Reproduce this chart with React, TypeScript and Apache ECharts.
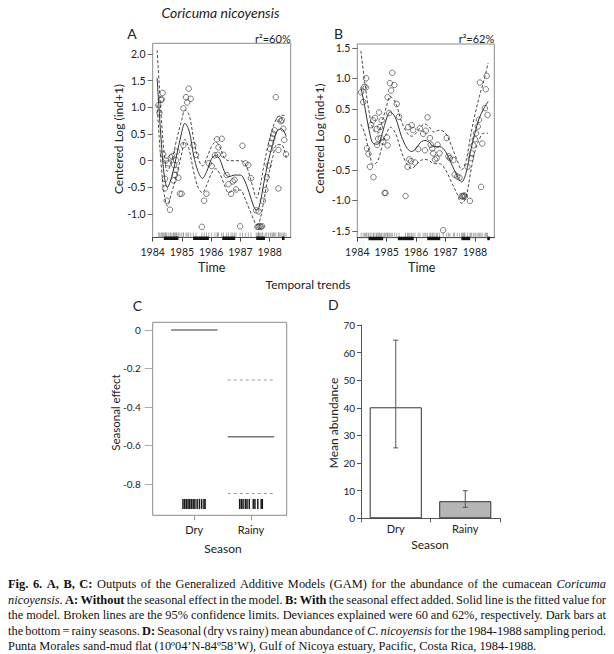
import React, { useEffect, useRef } from 'react';
import * as echarts from 'echarts';

// ---------- DATA ----------
const yearTicks = [1984, 1985, 1986, 1987, 1988];
const yTicksA = [-1, -0.5, 0, 0.5, 1, 1.5, 2];
const yTicksB = [-1.5, -1, -0.5, 0, 0.5, 1, 1.5];
const yTicksC = [-0.8, -0.6, -0.4, -0.2, 0];

// Panel A observations (time, centered log)
const pointsA: [number, number][] = [
  [1984.19, 1.04], [1984.23, 0.9], [1984.28, 1.14], [1984.31, 1.15], [1984.34, 1.27],
  [1984.36, 0.12], [1984.45, 0.0], [1984.42, -0.34], [1984.42, -0.52], [1984.48, -0.75], [1984.59, -0.92],
  [1984.53, -0.05], [1984.62, 0.06], [1984.66, 0.08], [1984.73, -0.08], [1984.71, -0.37], [1984.76, -0.27],
  [1984.8, 0.01], [1984.83, 0.17], [1984.8, -0.17], [1984.88, -0.32], [1984.93, -0.62], [1984.99, -0.62],
  [1985.05, 0.29], [1985.05, 0.98], [1985.14, 1.19], [1985.18, 1.09], [1985.23, 1.35], [1985.3, 1.16],
  [1985.39, 0.29], [1985.48, 0.11], [1985.68, -1.24], [1985.76, -0.75], [1985.84, -0.62], [1985.92, -0.05],
  [1986.02, -0.1], [1986.13, 0.1], [1986.2, 0.4], [1986.25, 0.25], [1986.22, 0.11], [1986.36, 0.41],
  [1986.42, 0.11], [1986.53, -0.27], [1986.59, -0.44], [1986.68, -0.62], [1986.74, -0.39], [1986.8, -0.36],
  [1986.85, -0.54], [1986.99, -1.23], [1987.07, 0.28], [1987.17, -0.05], [1987.27, -0.08], [1987.36, -0.33],
  [1987.54, -0.93], [1987.62, -0.95], [1987.58, -1.24], [1987.62, -1.24], [1987.66, -1.23], [1987.7, -1.24],
  [1987.74, -1.23], [1987.77, -0.75], [1987.85, -0.55], [1987.9, -0.31], [1987.96, -0.09], [1988.02, 0.22],
  [1988.05, 0.33], [1988.1, 0.42], [1988.13, 0.5], [1988.17, 0.57], [1988.21, 1.19], [1988.3, -0.52],
  [1988.3, 0.2], [1988.33, 0.78], [1988.38, 0.74], [1988.42, 0.76], [1988.47, 0.6], [1988.5, 0.39], [1988.56, 0.12],
];
const timeA = [1984.15, 1984.22, 1984.3, 1984.4, 1984.5, 1984.65, 1984.8, 1985.0, 1985.1, 1985.25, 1985.4, 1985.55,
  1985.7, 1985.85, 1986.0, 1986.15, 1986.3, 1986.45, 1986.6, 1986.8, 1987.0, 1987.15, 1987.3, 1987.45, 1987.55,
  1987.65, 1987.8, 1987.95, 1988.1, 1988.25, 1988.4, 1988.57];
const fitA = [1.55, 0.95, 0.3, -0.3, -0.5, -0.3, 0.05, 0.55, 0.7, 0.55, 0.1, -0.2, -0.33, -0.2, 0.02, 0.1, 0.02,
  -0.2, -0.3, -0.27, -0.27, -0.38, -0.6, -0.85, -0.93, -0.85, -0.42, -0.02, 0.3, 0.55, 0.6, 0.45];
const upperA = [2.07, 1.45, 0.75, 0.1, -0.2, 0.0, 0.35, 0.78, 0.95, 0.85, 0.4, 0.05, -0.1, 0.05, 0.25, 0.35, 0.25,
  0.05, 0.0, 0.0, 0.0, -0.05, -0.25, -0.55, -0.7, -0.55, -0.1, 0.3, 0.6, 0.8, 0.85, 0.85];
const lowerA = [1.05, 0.45, -0.15, -0.65, -0.85, -0.6, -0.3, 0.15, 0.4, 0.2, -0.2, -0.5, -0.6, -0.45, -0.25, -0.15,
  -0.25, -0.45, -0.6, -0.55, -0.55, -0.7, -0.9, -1.1, -1.2, -1.15, -0.75, -0.3, 0.05, 0.3, 0.3, 0.05];

// Panel B observations
const pointsB: [number, number][] = [
  [1984.13, 0.77], [1984.2, 0.61], [1984.24, 0.86], [1984.29, 0.85], [1984.3, 1.0],
  [1984.33, -0.15], [1984.38, -0.24], [1984.43, -0.45], [1984.47, 0.23], [1984.54, 0.31], [1984.55, -0.62],
  [1984.6, 0.35], [1984.66, 0.17], [1984.67, -0.09], [1984.71, 0.01], [1984.74, 0.44], [1984.77, 0.2],
  [1984.8, 0.02], [1984.83, 0.31], [1984.88, -0.04], [1984.93, -0.88], [1984.96, -0.88], [1985.01, 0.03],
  [1985.03, -0.1], [1985.03, 0.69], [1985.08, 0.43], [1985.11, 0.92], [1985.15, 0.8], [1985.19, 1.09],
  [1985.26, 0.89], [1985.34, 0.58], [1985.42, 0.37], [1985.64, -0.93], [1985.71, -0.45], [1985.73, 0.2],
  [1985.77, -0.33], [1985.83, -0.36], [1985.85, 0.23], [1985.9, 0.15], [1985.96, -0.38], [1986.07, -0.16],
  [1986.13, 0.18], [1986.24, 0.09], [1986.3, -0.18], [1986.33, 0.14], [1986.39, 0.36], [1986.47, 0.02],
  [1986.5, -0.09], [1986.55, -0.15], [1986.58, -0.23], [1986.64, -0.33], [1986.7, -0.31], [1986.73, -0.09],
  [1986.8, -0.23], [1986.92, -1.49], [1987.04, 0.02], [1987.1, -0.28], [1987.15, -0.31], [1987.27, -0.34],
  [1987.31, -0.58], [1987.4, -0.61], [1987.48, -0.63], [1987.55, -0.93], [1987.58, -0.94], [1987.61, -0.93],
  [1987.64, -0.92], [1987.66, -0.94], [1987.75, -0.45], [1987.83, -1.01], [1987.86, -0.31], [1987.89, -0.23],
  [1987.95, -0.1], [1988.0, 0.0], [1988.04, 0.1], [1988.1, 0.21], [1988.14, 0.32], [1988.17, 0.93],
  [1988.21, -0.78], [1988.25, -0.07], [1988.34, 0.51], [1988.37, 0.82], [1988.4, 1.04], [1988.43, 0.4],
];
const timeB = [1984.12, 1984.25, 1984.4, 1984.55, 1984.7, 1984.85, 1985.0, 1985.12, 1985.3, 1985.5, 1985.7,
  1985.85, 1986.0, 1986.15, 1986.3, 1986.45, 1986.6, 1986.8, 1987.0, 1987.2, 1987.4, 1987.55, 1987.7, 1987.85,
  1988.0, 1988.15, 1988.3, 1988.45];
const fitB = [0.85, 0.55, 0.15, -0.07, -0.08, 0.1, 0.35, 0.45, 0.35, 0.05, -0.15, -0.2, -0.15, -0.05, -0.02,
  -0.05, -0.12, -0.12, -0.2, -0.4, -0.6, -0.7, -0.55, -0.2, 0.1, 0.35, 0.5, 0.62];
const upperB = [1.45, 0.95, 0.45, 0.15, 0.1, 0.3, 0.55, 0.7, 0.6, 0.3, 0.1, 0.05, 0.1, 0.2, 0.25, 0.2, 0.12,
  0.15, 0.1, -0.1, -0.35, -0.5, -0.35, 0.05, 0.4, 0.7, 0.95, 1.25];
const lowerB = [0.25, 0.1, -0.2, -0.42, -0.35, -0.1, 0.1, 0.2, 0.1, -0.2, -0.42, -0.48, -0.42, -0.35, -0.33,
  -0.35, -0.4, -0.4, -0.5, -0.7, -0.9, -1.05, -0.95, -0.55, -0.2, 0.0, 0.1, 0.1];

// Rainy seasons (dark bars at the bottom)
const rainySeasons: [number, number][] = [
  [1984.38, 1984.88], [1985.38, 1985.92], [1986.38, 1986.82], [1987.54, 1987.84], [1988.42, 1988.51],
];

// Panel C: seasonal effect
const seasons = ['Dry', 'Rainy'];
const seasonEffect = [0, -0.555];
const seasonUpper = [null, -0.26];
const seasonLower = [null, -0.85];
const rugDry = [-0.2, -0.17, -0.14, -0.11, -0.08, -0.05, -0.02, 0.01, 0.05, 0.09, 0.13, 0.17, 0.19];
const rugRainy = [-0.2, -0.17, -0.14, -0.1, -0.07, -0.03, 0.04, 0.07, 0.12, 0.18, 0.2];

// Panel D: mean abundance
const meanAbund = [40.2, 6.2];
const abundLow = [25.5, 4.0];
const abundHigh = [64.5, 10.0];

// Caption
type Seg = [string, string];
const captionLines: Seg[][] = [
  [['Fig. 6. A, B, C:', 'b'], [' Outputs of the Generalized Additive Models (GAM) for the abundance of the cumacean ', ''], ['Coricuma', 'i']],
  [['nicoyensis', 'i'], ['. ', ''], ['A: Without', 'b'], [' the seasonal effect in the model. ', ''], ['B: With', 'b'], [' the seasonal effect added. Solid line is the fitted value for', '']],
  [['the model. Broken lines are the 95% confidence limits. Deviances explained were 60 and 62%, respectively. Dark bars at', '']],
  [['the bottom = rainy seasons. ', ''], ['D:', 'b'], [' Seasonal (dry vs rainy) mean abundance of ', ''], ['C. nicoyensis', 'i'], [' for the 1984-1988 sampling period.', '']],
  [['Punta Morales sand-mud flat (10º04’N-84º58’W), Gulf of Nicoya estuary, Pacific, Costa Rica, 1984-1988.', '']],
];

// ---------- STYLE ----------
const SANS = 'Lato, "Open Sans", sans-serif';
const SERIF = '"Liberation Serif", "Times New Roman", serif';
const INK = '#222';
const BOX = '#8a8a8a';
const fmt1 = (v: number) => (Math.abs(v) < 1e-9 ? '0' : v.toFixed(1));

function txt(x: number, y: number, text: string, opts: any = {}) {
  const align = opts.align || 'center';
  const va = opts.va || 'middle';
  return {
    type: 'text', x, y, rotation: opts.rotation || 0, z: 10,
    style: {
      text, fill: opts.fill || INK,
      fontSize: opts.size || 12, fontFamily: opts.family || SANS,
      fontStyle: opts.italic ? 'italic' : 'normal', fontWeight: opts.bold ? 'bold' : 'normal',
      align, verticalAlign: va, textAlign: align, textVerticalAlign: va,
    },
  };
}

function captionGraphics() {
  const out: any[] = [];
  const ctx = document.createElement('canvas').getContext('2d')!;
  const size = 12.4;
  const left = 8, right = 606;
  const ys = [584, 599.5, 615, 630.5, 646];
  const font = (s: string) => `${s === 'i' ? 'italic ' : ''}${s === 'b' ? 'bold ' : ''}${size}px ${SERIF}`;
  captionLines.forEach((line, li) => {
    const words: { t: string; s: string }[][] = [];
    let cur: { t: string; s: string }[] = [];
    for (const [t, s] of line) {
      t.split(' ').forEach((p, k) => {
        if (k > 0) { if (cur.length) words.push(cur); cur = []; }
        if (p) cur.push({ t: p, s });
      });
    }
    if (cur.length) words.push(cur);
    const widths = words.map((w) => w.reduce((a, r) => { ctx.font = font(r.s); return a + ctx.measureText(r.t).width; }, 0));
    const total = widths.reduce((a, b) => a + b, 0);
    ctx.font = font('');
    const space = ctx.measureText(' ').width;
    const justify = li < captionLines.length - 1;
    const gap = justify ? (right - left - total) / (words.length - 1) : space;
    let x = left;
    words.forEach((w, i) => {
      let rx = x;
      w.forEach((r) => {
        ctx.font = font(r.s);
        out.push(txt(rx, ys[li], r.t, { align: 'left', size, family: SERIF, italic: r.s === 'i', bold: r.s === 'b', fill: '#111' }));
        rx += ctx.measureText(r.t).width;
      });
      x += widths[i] + gap;
    });
  });
  return out;
}

function gamAxes(gi: number, xmax: number, ymin: number, ymax: number, yt: number[]) {
  const x = {
    gridIndex: gi, type: 'value', min: 1984, max: xmax,
    axisLine: { show: true, onZero: false, lineStyle: { color: '#444', width: 1 } },
    axisTick: { show: true, length: 4, customValues: yearTicks, lineStyle: { color: '#444' } },
    axisLabel: { customValues: yearTicks, formatter: (v: number) => String(Math.round(v)), margin: 9, fontSize: 10.5, color: INK, fontFamily: SANS },
    splitLine: { show: false },
  };
  const y = {
    gridIndex: gi, type: 'value', min: ymin, max: ymax,
    axisLine: { show: false, onZero: false },
    axisTick: { show: true, length: 5, customValues: yt, lineStyle: { color: '#666' } },
    axisLabel: { customValues: yt, formatter: fmt1, margin: 7, fontSize: 10.5, color: INK, fontFamily: SANS },
    splitLine: { show: false },
  };
  return { x, y };
}

function gamSeries(idx: number, pts: [number, number][], t: number[], fit: number[], up: number[], lo: number[], ymin: number) {
  const base = { xAxisIndex: idx, yAxisIndex: idx };
  const line = (vals: number[], dashed: boolean) => ({
    ...base, type: 'line', data: t.map((x, i) => [x, vals[i]]), showSymbol: false, smooth: 0.35,
    lineStyle: { color: '#333', width: dashed ? 0.9 : 1, type: dashed ? [3, 2] : 'solid' }, silent: true, z: 3,
  });
  return [
    line(up, true), line(lo, true), line(fit, false),
    {
      ...base, type: 'scatter', data: pts, symbol: 'circle', symbolSize: 5.5, z: 4,
      itemStyle: { color: 'rgba(255,255,255,0)', borderColor: '#333', borderWidth: 0.8 },
    },
    {
      ...base, type: 'custom', data: pts.map((p) => [p[0], ymin]), encode: { x: 0, y: 1 }, z: 2,
      renderItem: (_p: any, api: any) => {
        const c = api.coord([api.value(0), api.value(1)]);
        return { type: 'line', shape: { x1: c[0], y1: c[1], x2: c[0], y2: c[1] - 5 }, style: { stroke: '#8a8a8a', lineWidth: 0.7 } };
      },
    },
    {
      ...base, type: 'custom', data: rainySeasons.map((r) => [r[0], r[1], ymin]), encode: { x: [0, 1], y: 2 }, z: 5,
      renderItem: (_p: any, api: any) => {
        const a = api.coord([api.value(0), api.value(2)]);
        const b = api.coord([api.value(1), api.value(2)]);
        return { type: 'rect', shape: { x: a[0], y: a[1] - 1, width: b[0] - a[0], height: 3.5 }, style: { fill: '#111' } };
      },
    },
  ];
}

function buildOption() {
  const A = gamAxes(0, 1988.72, -1.44, 2.2, yTicksA);
  const B = gamAxes(1, 1988.66, -1.613, 1.562, yTicksB);
  const halfW = 0.41;
  const cLine = (i: number, v: number | null, dashed: boolean) => v === null ? null : ({
    type: 'line', xAxisIndex: 2, yAxisIndex: 2, data: [[i + 1 - halfW, v], [i + 1 + halfW, v]], showSymbol: false, silent: true,
    lineStyle: { color: dashed ? '#999' : '#777', width: dashed ? 1 : 1.5, type: dashed ? [3, 3] : 'solid' },
  });
  const cSeries: any[] = [];
  seasons.forEach((_s, i) => {
    [cLine(i, seasonEffect[i], false), cLine(i, seasonUpper[i], true), cLine(i, seasonLower[i], true)].forEach((s) => s && cSeries.push(s));
  });
  const rugC = [...rugDry.map((o) => 1 + o), ...rugRainy.map((o) => 2 + o)];
  cSeries.push({
    type: 'custom', xAxisIndex: 2, yAxisIndex: 2, data: rugC.map((x) => [x, -0.878, -0.93]), encode: { x: 0, y: [1, 2] },
    renderItem: (_p: any, api: any) => {
      const a = api.coord([api.value(0), api.value(1)]);
      const b = api.coord([api.value(0), api.value(2)]);
      return { type: 'line', shape: { x1: a[0], y1: a[1], x2: b[0], y2: b[1] }, style: { stroke: '#1a1a1a', lineWidth: 1.5 } };
    },
  });

  return {
    animation: false,
    backgroundColor: '#fff',
    grid: [
      { left: 152.7, top: 43.3, width: 138, height: 194.2, show: true, borderColor: BOX, borderWidth: 1, backgroundColor: 'transparent', outerBoundsMode: 'none', containLabel: false },
      { left: 357.3, top: 44, width: 137, height: 193.7, show: true, borderColor: BOX, borderWidth: 1, backgroundColor: 'transparent', outerBoundsMode: 'none', containLabel: false },
      { left: 152.7, top: 322.3, width: 134, height: 193, show: true, borderColor: BOX, borderWidth: 1, backgroundColor: 'transparent', outerBoundsMode: 'none', containLabel: false },
      { left: 361, top: 325, width: 139, height: 193.3, show: false, outerBoundsMode: 'none', containLabel: false },
    ],
    xAxis: [
      A.x, B.x,
      {
        gridIndex: 2, type: 'value', min: 0.266, max: 2.63,
        axisLine: { show: false, onZero: false },
        axisTick: { show: true, length: 5, customValues: [1, 2], lineStyle: { color: '#999' } },
        axisLabel: { customValues: [1, 2], formatter: (v: number) => seasons[Math.round(v) - 1], margin: 9, fontSize: 11, color: INK, fontFamily: SANS },
        splitLine: { show: false },
      },
      {
        gridIndex: 3, type: 'category', data: seasons,
        axisLine: { show: true, onZero: false, lineStyle: { color: '#555' } },
        axisTick: { show: true, length: 4, alignWithLabel: false, lineStyle: { color: '#555' } },
        axisLabel: { margin: 5, fontSize: 11, color: INK, fontFamily: SANS },
      },
    ],
    yAxis: [
      A.y, B.y,
      {
        gridIndex: 2, type: 'value', min: -0.963, max: 0.04,
        axisLine: { show: false, onZero: false },
        axisTick: { show: true, length: 8, customValues: yTicksC, lineStyle: { color: '#aaa' } },
        axisLabel: { customValues: yTicksC, formatter: fmt1, margin: 12, fontSize: 10, color: INK, fontFamily: SANS },
        splitLine: { show: false },
      },
      {
        gridIndex: 3, type: 'value', min: 0, max: 70, interval: 10,
        axisLine: { show: true, onZero: false, lineStyle: { color: '#555' } },
        axisTick: { show: true, length: 4, lineStyle: { color: '#555' } },
        axisLabel: { margin: 6, fontSize: 10, color: INK, fontFamily: SANS },
        splitLine: { show: false },
      },
    ],
    series: [
      ...gamSeries(0, pointsA, timeA, fitA, upperA, lowerA, -1.44),
      ...gamSeries(1, pointsB, timeB, fitB, upperB, lowerB, -1.613),
      ...cSeries,
      {
        type: 'bar', xAxisIndex: 3, yAxisIndex: 3, barWidth: '75%',
        data: meanAbund.map((v, i) => ({ value: v, itemStyle: { color: i === 0 ? '#ffffff' : '#b5b5b5' } })),
        itemStyle: { borderColor: '#333', borderWidth: 1 },
      },
      {
        type: 'custom', xAxisIndex: 3, yAxisIndex: 3, z: 5,
        data: meanAbund.map((_v, i) => [i, abundLow[i], abundHigh[i]]), encode: { x: 0, y: [1, 2] },
        renderItem: (_p: any, api: any) => {
          const lo = api.coord([api.value(0), api.value(1)]);
          const hi = api.coord([api.value(0), api.value(2)]);
          const st = { stroke: '#555', lineWidth: 1 };
          return {
            type: 'group', children: [
              { type: 'line', shape: { x1: lo[0], y1: lo[1], x2: hi[0], y2: hi[1] }, style: st },
              { type: 'line', shape: { x1: lo[0] - 2.5, y1: lo[1], x2: lo[0] + 2.5, y2: lo[1] }, style: st },
              { type: 'line', shape: { x1: hi[0] - 2.5, y1: hi[1], x2: hi[0] + 2.5, y2: hi[1] }, style: st },
            ],
          };
        },
      },
    ],
    graphic: [
      txt(220.5, 12, 'Coricuma nicoyensis', { size: 14, italic: true }),
      txt(132, 33, 'A', { size: 14 }),
      txt(338.5, 33, 'B', { size: 14 }),
      txt(290.7, 38, 'r²=60%', { size: 11, align: 'right' }),
      txt(494.3, 38, 'r²=62%', { size: 11, align: 'right' }),
      txt(118.3, 139, 'Centered Log (ind+1)', { size: 12, rotation: Math.PI / 2 }),
      txt(319, 138.5, 'Centered Log (ind+1)', { size: 12, rotation: Math.PI / 2 }),
      txt(211.7, 267, 'Time', { size: 12.5 }),
      txt(421.7, 267, 'Time', { size: 12.5 }),
      txt(308, 284, 'Temporal trends', { size: 12 }),
      txt(137.3, 305, 'C', { size: 14 }),
      txt(333.3, 304, 'D', { size: 14 }),
      txt(115, 412.5, 'Seasonal effect', { size: 11.5, rotation: Math.PI / 2 }),
      txt(223, 548, 'Season', { size: 12 }),
      txt(333, 423, 'Mean abundance', { size: 12, rotation: Math.PI / 2 }),
      txt(430, 544, 'Season', { size: 12 }),
      ...captionGraphics(),
    ],
  };
}

export default function App() {
  const ref = useRef<HTMLDivElement>(null);
  useEffect(() => {
    const chart = echarts.init(ref.current!, null, { renderer: 'svg' });
    chart.setOption(buildOption() as any);
    return () => chart.dispose();
  }, []);
  return <div ref={ref} style={{ position: 'absolute', left: 0, top: 0, width: 614, height: 654, background: '#fff' }} />;
}
